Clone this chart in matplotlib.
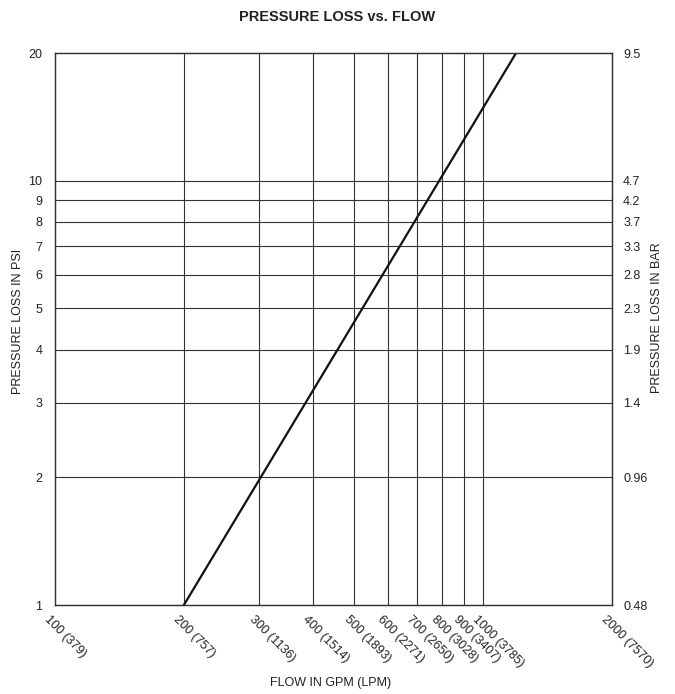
import matplotlib
matplotlib.use("Agg")
import matplotlib.pyplot as plt
from matplotlib.ticker import NullLocator, FixedLocator, FixedFormatter

plt.rcParams['font.family'] = ['Liberation Sans', 'DejaVu Sans']

# Data
flow_gpm = [200, 1194]
pressure_psi = [1, 20]

x_ticks = [100, 200, 300, 400, 500, 600, 700, 800, 900, 1000, 2000]
x_labels = ["100 (379)", "200 (757)", "300 (1136)", "400 (1514)", "500 (1893)",
            "600 (2271)", "700 (2650)", "800 (3028)", "900 (3407)", "1000 (3785)",
            "2000 (7570)"]
y_ticks = [1, 2, 3, 4, 5, 6, 7, 8, 9, 10, 20]
y_labels = ["1", "2", "3", "4", "5", "6", "7", "8", "9", "10", "20"]
bar_labels = ["0.48", "0.96", "1.4", "1.9", "2.3", "2.8", "3.3", "3.7", "4.2", "4.7", "9.5"]

fig = plt.figure(figsize=(6.75, 6.94), dpi=100)
ax = fig.add_axes([55/675, 1-605/694, (612-55)/675, (605-53)/694])
ax.set_xscale('log')
ax.set_yscale('log')
ax.set_xlim(100, 2000)
ax.set_ylim(1, 20)

for xv in x_ticks[1:-1]:
    ax.axvline(xv, color='#333333', lw=0.8, zorder=1)
for yv in y_ticks[1:-1]:
    ax.axhline(yv, color='#333333', lw=0.8, zorder=1)

ax.plot(flow_gpm, pressure_psi, color='#111111', lw=1.6, zorder=3)

ax.xaxis.set_major_locator(FixedLocator(x_ticks))
ax.xaxis.set_minor_locator(NullLocator())
ax.set_xticklabels([])
ax.yaxis.set_major_locator(FixedLocator(y_ticks))
ax.yaxis.set_minor_locator(NullLocator())
ax.yaxis.set_major_formatter(FixedFormatter(y_labels))
ax.tick_params(axis='both', length=0, labelsize=9, colors='#222222')
ax.tick_params(axis='y', pad=9)

for xv, lab in zip(x_ticks, x_labels):
    ax.annotate(lab, xy=(xv, 1), xycoords='data', xytext=(-3, -6), textcoords='offset points',
                rotation=-45, ha='left', va='top', rotation_mode='anchor',
                fontsize=9, color='#222222', annotation_clip=False)

ax2 = ax.twinx()
ax2.set_yscale('log')
ax2.set_ylim(1, 20)
ax2.yaxis.set_major_locator(FixedLocator(y_ticks))
ax2.yaxis.set_minor_locator(NullLocator())
ax2.yaxis.set_major_formatter(FixedFormatter(bar_labels))
ax2.tick_params(axis='y', length=0, labelsize=9, pad=8, colors='#222222')

for a in (ax, ax2):
    for s in a.spines.values():
        s.set_color('#333333')
        s.set_linewidth(0.9)

fig.text(0.5, 1-17/694, "PRESSURE LOSS vs. FLOW", ha='center', va='center',
         fontsize=10.5, fontweight='bold', color='#222222')
fig.text(18/675, 1-321/694, "PRESSURE LOSS IN PSI", rotation=90, ha='center', va='center',
         fontsize=9, color='#222222')
fig.text(657/675, 1-318/694, "PRESSURE LOSS IN BAR", rotation=90, ha='center', va='center',
         fontsize=9, color='#222222')
fig.text(331/675, 1-683/694, "FLOW IN GPM (LPM)", ha='center', va='center',
         fontsize=9, color='#222222')

fig.savefig("out.png", dpi=100, facecolor='white')
